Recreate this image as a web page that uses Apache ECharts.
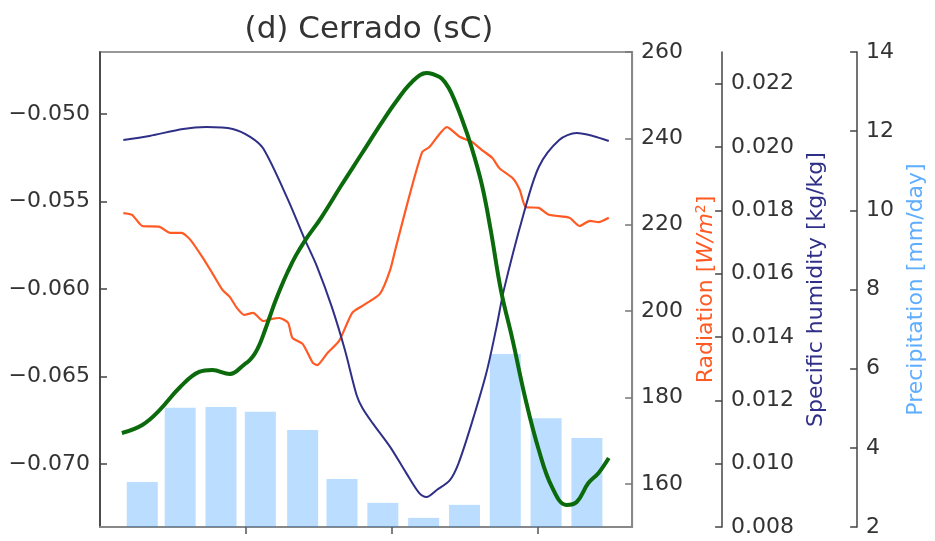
<!DOCTYPE html>
<html>
<head>
<meta charset="utf-8">
<title>(d) Cerrado (sC)</title>
<script src="https://cdn.jsdelivr.net/npm/echarts@6/dist/echarts.min.js"></script>
<style>
  html, body { margin: 0; padding: 0; background: #fff; }
  #chart { width: 935px; height: 541px; }
</style>
</head>
<body>
<div id="chart"></div>
<script>
// left axis series (thick green), day of year -> value
const idxDays = [15, 29, 41, 55, 68, 77, 89, 99.3, 102.7, 106.1, 109.6, 113, 116.4, 119.8, 123.9, 128.7, 134.2, 140.4,
  152, 165.7, 179.4, 193.1, 203.4, 214, 224, 233, 237, 241, 248, 255, 262, 268, 275, 283, 292, 301, 310,
  320, 327, 335, 342, 349]
const idxValues = [-0.06823, -0.06777, -0.06691, -0.06560, -0.06474, -0.06463, -0.06486, -0.06429, -0.06406, -0.06371,
  -0.06314, -0.06240, -0.06160, -0.06080, -0.05994, -0.05903, -0.05811, -0.05726,
  -0.05589, -0.05406, -0.05229, -0.05051, -0.04926, -0.04817, -0.04766, -0.04789, -0.04823, -0.04880,
  -0.05023, -0.05194, -0.05406, -0.05663, -0.06006, -0.06291, -0.06634, -0.06920, -0.07131,
  -0.07234, -0.07217, -0.07109, -0.07051, -0.06966]

// radiation [W/m2]
const radDays = [16, 22, 29, 41, 48, 56, 62, 71, 77, 84, 89, 94, 99, 105, 112, 118, 123, 129, 132, 139, 146, 149,
  156, 164, 173, 180, 192, 199, 203, 212, 221, 226, 238, 247, 255, 262, 269, 274, 283, 288, 292, 301,
  308, 322, 329, 336, 342, 349]
const radValues = [222.7, 222.3, 219.7, 219.5, 218.1, 218.1, 216.5, 212.1, 208.8, 204.9, 203.3, 200.7, 199.1, 199.6,
  197.7, 198.2, 198.4, 197.3, 193.8, 192.4, 188.0, 187.5, 190.3, 193.1, 199.6, 201.2, 204.0, 209.5, 214.8, 226.4,
  236.8, 238.0, 242.6, 240.3, 239.2, 237.3, 235.5, 233.1, 230.8, 228.0, 224.1, 223.9, 222.3, 221.6, 219.7, 220.9,
  220.6, 221.6]

// specific humidity [kg/kg]
const humDays = [16, 34, 57, 73, 91, 103, 112, 129, 140, 149, 159, 168, 176, 180, 187, 199, 210, 219, 224, 231,
  240, 246, 255, 265, 272, 277, 290, 301, 315, 327, 338, 349]
const humValues = [0.02022, 0.02035, 0.02057, 0.02063, 0.02057, 0.02032, 0.01995, 0.01833, 0.01713, 0.01621,
  0.01495, 0.01359, 0.01217, 0.01176, 0.01128, 0.01053, 0.00971, 0.00907, 0.00895, 0.00917,
  0.00948, 0.01002, 0.01128, 0.01286, 0.01432, 0.01548, 0.01779, 0.01937, 0.02022, 0.02044, 0.02035, 0.02019]

// monthly precipitation [mm/day]
const precipDays = [29, 55, 83, 110, 139, 166, 194, 222, 250, 278, 306, 334]
const precipValues = [3.14, 5.01, 5.03, 4.91, 4.45, 3.21, 2.61, 2.23, 2.56, 6.37, 4.75, 4.25]

// tick values
const xTicks = [100, 200, 300]
const idxTicks = [-0.070, -0.065, -0.060, -0.055, -0.050]
const radTicks = [160, 180, 200, 220, 240, 260]
const humTicks = [0.008, 0.010, 0.012, 0.014, 0.016, 0.018, 0.020, 0.022]
const precipTicks = [2, 4, 6, 8, 10, 12, 14]

const FONT = 'DejaVu Sans'
const SIZE = 22
const GREEN = '#0b6a0b'
const RED = '#ff5a24'
const NAVY = '#2f2f88'
const SKY = 'rgba(30,144,255,0.3)'

const pairs = (xs, ys) => xs.map((x, i) => [x, ys[i]])

function sideAxis(opt) {
  return Object.assign({
    type: 'value',
    position: 'right',
    nameLocation: 'middle',
    nameRotate: 90,
    splitLine: { show: false },
    axisLine: { show: true, lineStyle: { color: '#444', width: 1.5 } }
  }, opt)
}

const chart = echarts.init(document.getElementById('chart'))
chart.setOption({
  animation: false,
  title: {
    text: '(d) Cerrado (sC)',
    left: 364,
    textAlign: 'center',
    top: 9,
    textStyle: { fontFamily: FONT, fontSize: 31, fontWeight: 'normal', color: '#333' }
  },
  grid: {
    left: 100, right: 302, top: 52, bottom: 14,
    show: true, borderColor: '#999', borderWidth: 2, backgroundColor: 'transparent'
  },
  xAxis: {
    type: 'value',
    min: 0,
    max: 365,
    splitLine: { show: false },
    axisLine: { lineStyle: { color: '#888', width: 2 } },
    axisTick: { inside: false, length: 7, customValues: xTicks, lineStyle: { color: '#555', width: 1.5 } },
    axisLabel: { show: false }
  },
  yAxis: [
    {
      type: 'value',
      position: 'left',
      min: -0.0736,
      max: -0.04646,
      splitLine: { show: false },
      axisLine: { show: true, lineStyle: { color: '#333', width: 1.5 } },
      axisTick: { show: true, inside: true, length: 7, customValues: idxTicks, lineStyle: { color: '#444', width: 1.5 } },
      axisLabel: {
        customValues: idxTicks,
        color: '#333', fontFamily: FONT, fontSize: SIZE, margin: 10,
        formatter: v => (v < 0 ? '\u2212' : '') + Math.abs(v).toFixed(3)
      }
    },
    sideAxis({
      min: 150,
      max: 260,
      name: 'Radiation [{it|W/m}{sup|2}]',
      nameGap: 61,
      nameTextStyle: {
        color: RED, fontFamily: FONT, fontSize: SIZE,
        rich: {
          it: { color: RED, fontFamily: FONT, fontSize: SIZE, fontStyle: 'italic' },
          sup: { color: RED, fontFamily: FONT, fontSize: 14, padding: [0, 0, 11, 0] }
        }
      },
      axisLine: { show: true, lineStyle: { color: '#888', width: 2 } },
      axisTick: { show: true, inside: true, length: 7, customValues: radTicks, lineStyle: { color: '#777', width: 1.5 } },
      axisLabel: { customValues: radTicks, color: '#333', fontFamily: FONT, fontSize: SIZE, margin: 9 }
    }),
    sideAxis({
      min: 0.008,
      max: 0.023,
      offset: 90,
      name: 'Specific humidity [kg/kg]',
      nameGap: 79,
      nameTextStyle: { color: NAVY, fontFamily: FONT, fontSize: SIZE },
      axisTick: { show: true, inside: true, length: 7, customValues: humTicks, lineStyle: { color: '#444', width: 1.5 } },
      axisLabel: {
        customValues: humTicks, color: '#333', fontFamily: FONT, fontSize: SIZE, margin: 9,
        formatter: v => v.toFixed(3)
      }
    }),
    sideAxis({
      min: 2,
      max: 14,
      offset: 225,
      name: 'Precipitation [mm/day]',
      nameGap: 42,
      nameTextStyle: { color: '#5fadff', fontFamily: FONT, fontSize: SIZE },
      axisTick: { show: true, inside: true, length: 7, customValues: precipTicks, lineStyle: { color: '#444', width: 1.5 } },
      axisLabel: { customValues: precipTicks, color: '#333', fontFamily: FONT, fontSize: SIZE, margin: 9 }
    })
  ],
  series: [
    {
      type: 'bar',
      yAxisIndex: 3,
      barWidth: 31,
      data: pairs(precipDays, precipValues),
      itemStyle: { color: SKY },
      z: 1
    },
    {
      type: 'line',
      yAxisIndex: 1,
      data: pairs(radDays, radValues),
      smooth: 0.2,
      showSymbol: false,
      lineStyle: { color: RED, width: 2.2 },
      z: 2
    },
    {
      type: 'line',
      yAxisIndex: 2,
      data: pairs(humDays, humValues),
      smooth: 0.3,
      showSymbol: false,
      lineStyle: { color: NAVY, width: 2 },
      z: 3
    },
    {
      type: 'line',
      yAxisIndex: 0,
      data: pairs(idxDays, idxValues),
      smooth: 0.4,
      showSymbol: false,
      lineStyle: { color: GREEN, width: 4 },
      z: 4
    }
  ]
})
</script>
</body>
</html>
